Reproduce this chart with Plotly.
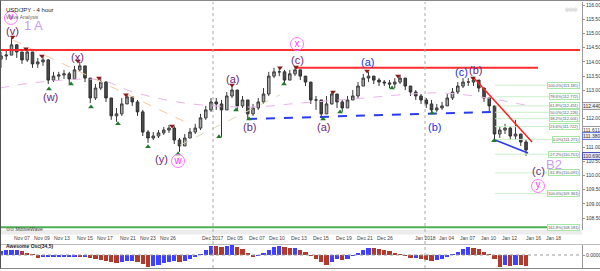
import plotly.graph_objects as go

# ---------------- DATA ----------------
# 12-hour bars, x in chart "day" units (Nov 07 = 0)
first_open = 114.10
close = [114.21,114.24,114.60,114.35,114.07,114.35,113.93,114.00,114.07,113.36,
         113.50,113.54,113.58,113.40,113.72,113.86,113.43,112.73,113.08,113.29,
         112.73,112.10,112.17,112.52,112.77,112.59,112.24,111.53,111.32,111.39,
         111.50,111.60,111.67,111.25,111.04,111.32,111.53,111.67,112.03,112.31,
         112.59,112.52,112.31,112.80,113.01,112.45,112.66,112.17,112.38,112.59,
         112.87,113.50,113.65,113.65,113.36,113.58,113.72,113.50,113.29,112.66,
         112.66,112.17,112.52,112.87,112.59,112.38,112.66,112.80,113.15,113.43,
         113.50,113.36,113.29,113.26,113.22,113.29,113.43,113.15,112.94,112.80,
         112.66,112.52,112.31,112.38,112.45,112.73,112.94,113.15,113.29,113.29,
         113.36,113.08,112.73,112.45,111.46,111.60,111.67,111.39,111.46,111.18,
         110.90]
high = [114.35,114.42,114.84,114.63,114.35,114.49,114.35,114.14,114.21,114.10,
        113.65,113.65,113.72,113.65,113.86,114.00,113.86,113.43,113.22,113.43,
        113.32,112.73,112.38,112.73,112.84,112.80,112.66,112.31,111.60,111.53,
        111.60,111.71,111.78,111.74,111.32,111.46,111.67,111.82,112.17,112.45,
        112.73,112.73,112.66,112.94,113.19,113.01,112.80,112.66,112.52,112.73,
        113.08,113.65,113.79,113.79,113.72,113.72,113.82,113.72,113.50,113.29,
        112.80,112.66,112.80,112.94,112.87,112.66,112.80,113.01,113.29,113.58,
        113.65,113.50,113.43,113.36,113.36,113.43,113.54,113.43,113.15,113.01,
        112.87,112.73,112.66,112.52,112.59,112.87,113.08,113.29,113.43,113.43,
        113.47,113.36,113.08,112.73,112.45,111.74,111.82,111.74,111.96,111.46,
        111.25]
low = [113.79,114.07,114.24,114.14,113.93,114.00,113.79,113.79,113.86,113.22,
       113.29,113.36,113.40,113.22,113.38,113.65,113.29,112.55,112.66,113.01,
       112.59,111.96,111.89,112.10,112.52,112.45,112.10,111.39,111.15,111.25,
       111.32,111.43,111.50,111.11,110.83,111.04,111.32,111.46,111.60,111.96,
       112.24,112.31,111.36,112.31,112.73,112.31,112.38,111.99,112.10,112.31,
       112.52,112.80,113.43,113.50,113.26,113.36,113.50,113.36,113.15,112.52,
       112.31,112.03,112.17,112.50,112.38,112.24,112.38,112.66,112.73,113.15,
       113.29,113.22,113.15,113.15,113.08,113.08,113.22,113.01,112.80,112.66,
       112.52,112.38,112.20,112.24,112.31,112.45,112.66,112.87,113.08,113.15,
       113.15,112.94,112.59,112.24,111.22,111.32,111.46,111.25,111.25,111.04,
       110.69]
ao = [0.20,0.23,0.25,0.25,0.18,0.08,0.02,-0.13,-0.11,-0.10,
      -0.09,-0.08,-0.08,-0.07,-0.07,-0.08,-0.06,-0.13,-0.20,-0.25,
      -0.30,-0.35,-0.40,-0.35,-0.30,-0.28,-0.35,-0.45,-0.58,-0.55,
      -0.48,-0.40,-0.33,-0.28,-0.35,-0.30,-0.20,-0.10,0.05,0.25,
      0.45,0.43,0.38,0.45,0.50,0.40,0.30,0.10,-0.08,-0.05,
      0.08,0.25,0.38,0.45,0.40,0.33,0.34,0.25,0.15,-0.03,
      -0.20,-0.35,-0.48,-0.35,-0.20,-0.23,-0.18,-0.05,0.10,0.25,
      0.35,0.33,0.28,0.23,0.18,0.10,0.03,-0.05,-0.15,-0.13,
      -0.18,-0.25,-0.30,-0.25,-0.18,-0.08,0.03,0.15,0.28,0.38,
      0.35,0.28,0.15,0.03,-0.20,-0.60,-0.50,-0.53,-0.48,-0.50,
      -0.53]
bar_start, bar_step = -2.0, 0.5

tick_days = [0.0, 1.90, 3.81, 6.0, 7.90, 10.10, 12.0, 13.90, 18.19, 20.29, 22.38,
             24.29, 26.38, 28.48, 30.67, 32.67, 34.57, 38.38, 40.38, 42.38, 44.38,
             46.38, 48.67, 50.57]
tick_text = ["Nov 07", "Nov 09", "Nov 13", "Nov 15", "Nov 17", "Nov 21", "Nov 23",
             "Nov 26", "Dec 2017", "Dec 05", "Dec 07", "Dec 10", "Dec 13", "Dec 15",
             "Dec 19", "Dec 21", "Dec 26", "Jan 2018", "Jan 04", "Jan 07", "Jan 10",
             "Jan 12", "Jan 16", "Jan 18"]
month_starts = ["Dec 2017", "Jan 2018"]

# swing markers
pivot_hi_x = [-0.89, 0.38, 1.90, 5.33, 7.33, 9.90, 14.29, 20.0, 24.57, 26.10, 29.62, 32.86, 35.81, 42.95]
pivot_hi_y = [114.88, 114.46, 114.21, 114.03, 113.43, 112.84, 111.74, 113.19, 113.79, 113.82, 112.94, 113.68, 113.50, 113.43]
pivot_lo_x = [2.57, 4.67, 6.57, 9.14, 12.0, 14.86, 18.76, 20.38, 21.62, 24.95, 28.67, 30.29, 35.24, 39.05, 44.95]
pivot_lo_y = [113.05, 113.22, 112.41, 111.82, 111.01, 110.76, 111.36, 112.31, 111.99, 113.22, 111.99, 112.24, 113.08, 112.20, 111.22]

# wave labels
wave_text = ["(v)", "(x)", "(w)", "(y)", "(a)", "(b)", "(c)", "(a)", "(a)", "(b)", "(c)", "(b)", "(c)"]
wave_x = [-0.95, 5.33, 2.67, 13.33, 20.0, 21.62, 26.19, 28.67, 32.86, 39.24, 41.81, 43.14, 49.14]
wave_y = [115.09, 114.17, 112.77, 110.58, 113.40, 111.71, 114.07, 111.71, 114.0, 111.71, 113.65, 113.72, 110.16]
wave_col = ["#6b1f7a", "#6b1f7a", "#6b1f7a", "#6b1f7a", "#6b1f7a", "#6b1f7a", "#6b1f7a",
            "#6b1f7a", "#2233dd", "#2233dd", "#2233dd", "#6b1f7a", "#6b1f7a"]
circ_text = ["v", "w", "x", "y"]
circ_x = [-1.05, 14.86, 26.19, 49.14]
circ_y = [115.55, 110.51, 114.63, 109.63]
big_text = ["1 A", "B2"]
big_x = [1.05, 50.67]
big_y = [115.30, 110.37]

# trend lines / levels
resist_1 = 114.42
resist_2 = 113.79
resist_2_x = [26.0, 49.14]
neck_x, neck_y = [21.52, 44.86], [111.99, 112.24]
red_diag_x, red_diag_y = [42.95, 48.57], [113.47, 111.18]
blue_diag_x, blue_diag_y = [45.05, 48.19], [111.25, 110.79]
fib_pct = ["100.0%", "78.6%", "61.8%", "50.0%", "38.2%", "23.6%", "0.0%", "-27.2%", "-61.8%", "100.0%", "161.8%"]
fib_val = [113.181, 112.772, 112.451, 112.226, 112.001, 111.722, 111.271, 110.751, 110.091, 109.361, 108.181]
fib_x0 = 45.05
ma_x = [-2.10, 1.71, 7.43, 10.57, 15.52, 21.71, 26.48, 32.67, 36.0, 39.81, 43.62, 47.90]
ma_y = [113.08, 113.29, 113.36, 112.94, 112.55, 112.41, 112.55, 112.73, 112.84, 112.91, 112.77, 112.48]
orange_x, orange_y = [-0.86, 15.52], [114.77, 111.89]
tan_x, tan_y = [15.05, 24.57], [111.07, 112.84]
value_boxes = [("112.440", 112.44, "#eeeeee", "#999999"), ("111.611", 111.61, "#ffffff", "#999999"),
               ("111.380", 111.38, "#e8f0ff", "#6a7adf"), ("110.690", 110.69, "#dfe4ff", "#5050c0")]

# ---------------- LAYOUT CONSTANTS ----------------
W, H = 600, 271
R = 18
PW = W - R
X_RANGE = [-2.095, 53.33]
main_top, main_bot = 2, 230
ao_top, ao_bot = 245, 268
Y_RANGE = [108.08, 116.11]
AO_RANGE = [-0.65, 0.50]
x_right = 53.14

def px(xp):
    return xp / PW

def py(yp):
    return 1 - yp / H

n = len(close)
bx = [bar_start + bar_step * i for i in range(n)]
opens = [first_open] + close[:-1]

fig = go.Figure()

# faint moving average / trendlines
fig.add_trace(go.Scatter(x=ma_x, y=ma_y, mode="lines", line=dict(color="#e7b5e7", width=1, dash="dash", shape="spline"),
                         xaxis="x", yaxis="y", hoverinfo="skip"))
fig.add_trace(go.Scatter(x=orange_x, y=orange_y, mode="lines", line=dict(color="#f7c7a0", width=1, dash="dash"),
                         xaxis="x", yaxis="y", hoverinfo="skip"))
fig.add_trace(go.Scatter(x=tan_x, y=tan_y, mode="lines", line=dict(color="#e0d8b0", width=1, dash="dash"),
                         xaxis="x", yaxis="y", hoverinfo="skip"))

# fib levels
for v in fib_val[:-1]:
    fig.add_trace(go.Scatter(x=[fib_x0, x_right], y=[v, v], mode="lines",
                             line=dict(color="#c9efc9", width=1), xaxis="x", yaxis="y", hoverinfo="skip"))
fig.add_trace(go.Scatter(x=[X_RANGE[0], x_right], y=[fib_val[-1]] * 2, mode="lines",
                         line=dict(color="#4caf50", width=2), xaxis="x", yaxis="y", hoverinfo="skip"))

# horizontal resistances
fig.add_trace(go.Scatter(x=[X_RANGE[0], x_right], y=[resist_1] * 2, mode="lines",
                         line=dict(color="#ff2e2e", width=2), xaxis="x", yaxis="y"))
fig.add_trace(go.Scatter(x=resist_2_x, y=[resist_2] * 2, mode="lines",
                         line=dict(color="#ff2e2e", width=2), xaxis="x", yaxis="y"))
fig.add_trace(go.Scatter(x=neck_x, y=neck_y, mode="lines",
                         line=dict(color="#2a3cf0", width=2, dash="dash"), xaxis="x", yaxis="y"))

# price bars
fig.add_trace(go.Candlestick(x=bx, open=opens, high=high, low=low, close=close,
                             increasing=dict(line=dict(color="#3c3c3c", width=1), fillcolor="#a8a8a8"),
                             decreasing=dict(line=dict(color="#333333", width=1), fillcolor="#4a4a4a"),
                             whiskerwidth=0, xaxis="x", yaxis="y", hoverinfo="skip"))

fig.add_trace(go.Scatter(x=red_diag_x, y=red_diag_y, mode="lines",
                         line=dict(color="#ff2020", width=1.5), xaxis="x", yaxis="y"))
fig.add_trace(go.Scatter(x=blue_diag_x, y=blue_diag_y, mode="lines",
                         line=dict(color="#2a3cf0", width=1.5), xaxis="x", yaxis="y"))

# pivots
fig.add_trace(go.Scatter(x=pivot_hi_x, y=pivot_hi_y, mode="markers",
                         marker=dict(symbol="triangle-down", size=5, color="#8b1a1a"), xaxis="x", yaxis="y"))
fig.add_trace(go.Scatter(x=pivot_lo_x, y=pivot_lo_y, mode="markers",
                         marker=dict(symbol="triangle-up", size=5, color="#1f7a2a"), xaxis="x", yaxis="y"))

# circled labels
fig.add_trace(go.Scatter(x=circ_x, y=circ_y, mode="markers+text", text=circ_text, textposition="middle center",
                         textfont=dict(color="#ff33ff", size=10, family="Liberation Sans"),
                         marker=dict(symbol="circle-open", size=13, color="#ff77ff", line=dict(width=1)),
                         xaxis="x", yaxis="y"))

# awesome oscillator
ao_col = ["#4040ff"] + ["#4040ff" if ao[i] >= ao[i - 1] else "#b03a2e" for i in range(1, n)]
fig.add_trace(go.Bar(x=bx, y=ao, marker=dict(color=ao_col, line=dict(width=0)), width=0.4,
                     xaxis="x2", yaxis="y2", hoverinfo="skip"))
fig.add_trace(go.Scatter(x=[X_RANGE[0], X_RANGE[1]], y=[0, 0], mode="lines",
                         line=dict(color="#999999", width=1, dash="dot"), xaxis="x2", yaxis="y2"))

ann = []
F = "Liberation Sans"
for t, x, y, c in zip(wave_text, wave_x, wave_y, wave_col):
    ann.append(dict(x=x, y=y, xref="x", yref="y", text=t, showarrow=False,
                    font=dict(color=c, size=11, family=F)))
for t, x, y in zip(big_text, big_x, big_y):
    ann.append(dict(x=x, y=y, xref="x", yref="y", text=t, showarrow=False,
                    font=dict(color="#c79cf2", size=13, family=F)))
for p, v in zip(fib_pct, fib_val):
    ann.append(dict(x=x_right, y=v, xref="x", yref="y", text=f"{p}({v:.3f})", showarrow=False,
                    xanchor="right", font=dict(color="#555555", size=4, family=F),
                    bgcolor="#ffffff", bordercolor="#a8e6a8", borderwidth=1, borderpad=0))
for t, v, bg, bc in value_boxes:
    ann.append(dict(x=1.0, y=v, xref="paper", yref="y", text=t, showarrow=False, xanchor="left",
                    font=dict(color="#333333", size=5, family=F), bgcolor=bg, bordercolor=bc,
                    borderwidth=1, borderpad=0))
for d, t in zip(tick_days, tick_text):
    ann.append(dict(x=d, y=py(242.5), xref="x", yref="paper", text=t, showarrow=False,
                    font=dict(color="#444444", size=5, family=F)))
ann += [
    dict(x=px(4), y=py(5), xref="paper", yref="paper", text="USD/JPY - 4 hour", showarrow=False,
         xanchor="left", font=dict(color="#222222", size=6, family=F)),
    dict(x=px(4), y=py(12), xref="paper", yref="paper", text="Wave Analysis", showarrow=False,
         xanchor="left", font=dict(color="#666666", size=5, family=F)),
    dict(x=px(4), y=py(233.5), xref="paper", yref="paper", text="⊙⊙ MotiveWave", showarrow=False,
         xanchor="left", font=dict(color="#444444", size=5, family=F)),
    dict(x=px(4), y=py(250.5), xref="paper", yref="paper", text="<b>Awesome Osc(34,5)</b>", showarrow=False,
         xanchor="left", font=dict(color="#222222", size=5, family=F)),
    dict(x=px(580), y=py(4), xref="paper", yref="paper", text="◎◎◎", showarrow=False,
         xanchor="right", font=dict(color="#aaaaaa", size=5, family=F)),
]

shapes = [
    dict(type="rect", xref="paper", yref="paper", x0=0, x1=1, y0=py(234.5), y1=py(230),
         fillcolor="#ececec", line=dict(width=0), layer="below"),
    dict(type="line", xref="paper", yref="paper", x0=0, x1=1 + R / PW, y0=py(244.5), y1=py(244.5),
         line=dict(color="#bbbbbb", width=1)),
    dict(type="line", xref="paper", yref="paper", x0=0, x1=1 + R / PW, y0=py(268.5), y1=py(268.5),
         line=dict(color="#888888", width=1)),
    dict(type="line", xref="paper", yref="paper", x0=0, x1=1 + R / PW, y0=py(0.5), y1=py(0.5),
         line=dict(color="#888888", width=1)),
    dict(type="line", xref="paper", yref="paper", x0=px(0.5), x1=px(0.5), y0=py(268.5), y1=py(0.5),
         line=dict(color="#555555", width=1)),
]
for d, t in zip(tick_days, tick_text):
    if t in month_starts:
        shapes.append(dict(type="line", xref="x", yref="paper", x0=d, x1=d, y0=py(268), y1=py(2),
                           line=dict(color="#aaaaaa", width=1, dash="dot")))

fig.update_layout(
    width=W, height=H, margin=dict(l=0, r=R, t=0, b=0, autoexpand=False),
    paper_bgcolor="white", plot_bgcolor="white", showlegend=False,
    annotations=ann, shapes=shapes, bargap=0,
    xaxis=dict(domain=[0, 1], range=X_RANGE, showticklabels=False, showgrid=False, zeroline=False,
               rangeslider=dict(visible=False), anchor="y", fixedrange=True),
    xaxis2=dict(domain=[0, 1], range=X_RANGE, showticklabels=False, showgrid=False, zeroline=False,
                anchor="y2", matches="x"),
    yaxis=dict(domain=[py(main_bot), py(main_top)], range=Y_RANGE, side="right",
               tickvals=[108 + 0.5 * i for i in range(17)],
               ticktext=[f"{108 + 0.5 * i:.3f}" for i in range(17)],
               tickfont=dict(size=5, color="#333333", family=F), showgrid=False, zeroline=False,
               showline=True, linecolor="#999999", ticks="outside", ticklen=2, tickcolor="#999999",
               automargin=False),
    yaxis2=dict(domain=[py(ao_bot), py(ao_top)], range=AO_RANGE, side="right", tickvals=[0],
                ticktext=["0.0000"], tickfont=dict(size=5, color="#333333", family=F), showgrid=False,
                zeroline=False, showline=True, linecolor="#999999", ticks="outside", ticklen=2,
                tickcolor="#999999", automargin=False),
)

fig.write_html("out.html")
